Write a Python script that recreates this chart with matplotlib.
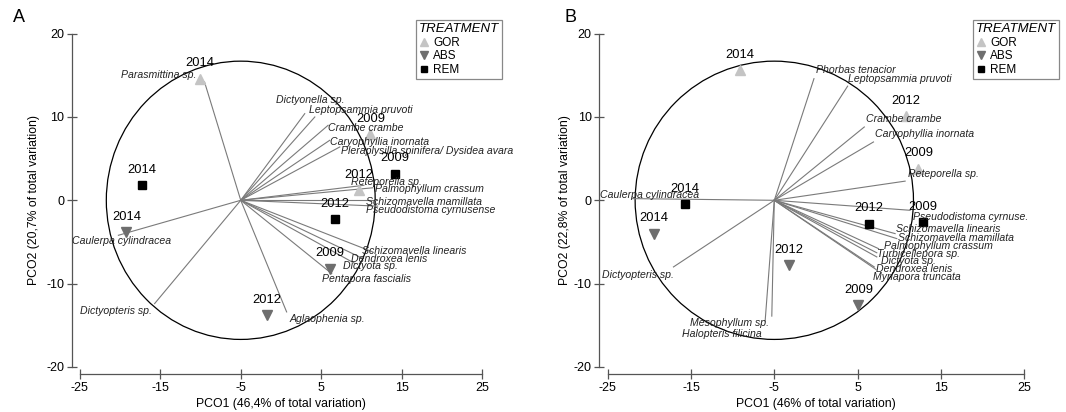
import numpy as np
import matplotlib.pyplot as plt
from matplotlib.lines import Line2D
from matplotlib.patches import Circle

plt.rcParams['font.family'] = ['Liberation Sans', 'DejaVu Sans']
plt.rcParams['axes.unicode_minus'] = False

# ==========================
# Data
# ==========================
years = ['2009', '2012', '2014']

# Panel A - sample scores, one value per year
a_gor_x = [11.1, 9.7, -10.1]
a_gor_y = [7.9, 1.2, 14.6]
a_abs_x = [6.1, -1.8, -19.2]
a_abs_y = [-8.2, -13.8, -3.8]
a_rem_x = [14.1, 6.7, -17.3]
a_rem_y = [3.2, -2.3, 1.8]

# Panel A - species vectors (end points)
a_species = ['Parasmittina sp.', 'Dictyonella sp.', 'Leptopsammia pruvoti',
             'Crambe crambe', 'Caryophyllia inornata',
             'Pleraplysilla spinifera/ Dysidea avara', 'Reteporella sp.',
             'Palmophyllum crassum', 'Schizomavella mamillata',
             'Pseudodistoma cyrnusense', 'Schizomavella linearis',
             'Dendroxea lenis', 'Dictyota sp.', 'Pentapora fascialis',
             'Aglaophenia sp.', 'Dictyopteris sp.', 'Caulerpa cylindracea']
a_vec_x = [-9.5, 2.95, 4.2, 5.85, 6.05, 7.3, 10.3, 11.4, 11.8, 12.0,
           11.4, 10.2, 9.2, 6.3, 0.7, -15.7, -20.2]
a_vec_y = [14.2, 10.4, 10.0, 9.0, 7.2, 6.4, 1.8, 1.5, 0.0, -0.7,
           -6.2, -7.0, -7.6, -8.8, -13.4, -12.4, -4.2]

# Panel B - sample scores, one value per year
b_gor_x = [12.3, 10.8, -9.1]
b_gor_y = [3.8, 10.1, 15.6]
b_abs_x = [5.1, -3.2, -19.4]
b_abs_y = [-12.6, -7.8, -4.0]
b_rem_x = [12.8, 6.4, -15.7]
b_rem_y = [-2.6, -2.8, -0.5]

# Panel B - species vectors (end points)
b_species = ['Phorbas tenacior', 'Leptopsammia pruvoti', 'Crambe crambe',
             'Caryophyllia inornata', 'Reteporella sp.',
             'Pseudodistoma cyrnuse.', 'Schizomavella linearis',
             'Schizomavella mamillata', 'Palmophyllum crassum',
             'Turbicellepora sp.', 'Dictyota sp.', 'Dendroxea lenis',
             'Myriapora truncata', 'Caulerpa cylindracea', 'Dictyopteris sp.',
             'Mesophyllum sp.', 'Halopteris filicina']
b_vec_x = [-0.24, 3.8, 5.8, 6.9, 10.7, 11.3, 9.5, 9.7, 7.5, 7.3, 7.3,
           7.0, 7.2, -22.0, -17.1, -5.3, -6.1]
b_vec_y = [14.6, 13.7, 8.8, 7.0, 2.3, -1.2, -4.0, -4.6, -5.8, -6.3, -6.8,
           -8.0, -8.3, 0.2, -8.0, -13.9, -14.5]

x_ticks = [-25, -15, -5, 5, 15, 25]
y_ticks = [-20, -10, 0, 10, 20]

# ==========================
# Layout (label placement)
# ==========================
a_lab = [(-10.5, 15.0, 'right'), (-0.6, 12.0, 'left'), (3.5, 10.8, 'left'),
         (5.85, 8.7, 'left'), (6.05, 7.0, 'left'), (7.5, 5.95, 'left'),
         (8.75, 2.2, 'left'), (11.65, 1.3, 'left'), (10.6, -0.15, 'left'),
         (10.6, -1.2, 'left'), (10.0, -6.05, 'left'), (8.75, -7.1, 'left'),
         (7.7, -7.9, 'left'), (5.15, -9.5, 'left'), (1.0, -14.2, 'left'),
         (-16.0, -13.25, 'right'), (-19.8, -4.85, 'center')]
b_lab = [(0.0, 15.6, 'left'), (3.9, 14.5, 'left'), (6.0, 9.75, 'left'),
         (7.1, 8.0, 'left'), (11.1, 3.2, 'left'), (11.6, -2.0, 'left'),
         (9.6, -3.5, 'left'), (9.8, -4.5, 'left'), (8.2, -5.5, 'left'),
         (7.3, -6.4, 'left'), (7.8, -7.3, 'left'), (7.2, -8.3, 'left'),
         (6.9, -9.2, 'left'), (-25.9, 0.6, 'left'), (-17.1, -9.0, 'right'),
         (-5.6, -14.7, 'right'), (-6.5, -16.1, 'right')]

gor_col = '#c4c4c4'
abs_col = '#6e6e6e'
rem_col = '#000000'
axis_col = '#555555'

W, H = 1066, 412
fig = plt.figure(figsize=(W / 100, H / 100), dpi=100)

XLIM = (-26, 28)
YLIM = (-20.85, 22)
origin = (-5, 0)
radius = 16.7


def draw_panel(ax, samples, species, vx, vy, labs, xlabel, ylabel, ylab_x):
    ax.set_xlim(*XLIM)
    ax.set_ylim(*YLIM)
    for s in ['top', 'right']:
        ax.spines[s].set_visible(False)
    ax.spines['left'].set_bounds(-20, 20)
    ax.spines['bottom'].set_bounds(-25, 25)
    for s in ['left', 'bottom']:
        ax.spines[s].set_color(axis_col)
        ax.spines[s].set_linewidth(0.9)
    ax.set_xticks(x_ticks)
    ax.set_yticks(y_ticks)
    ax.tick_params(direction='inout', length=7, width=0.9, color=axis_col,
                   labelsize=9, pad=2)

    ax.add_patch(Circle(origin, radius, fill=False, ec='black', lw=0.9))

    for name, x, y, (lx, ly, ha) in zip(species, vx, vy, labs):
        ax.plot([origin[0], x], [origin[1], y], color='#7a7a7a', lw=0.8)
        ax.text(lx, ly, name, style='italic', fontsize=7.6, ha=ha,
                va='center', color='#222222')

    for (xs, ys, marker, col, ms) in samples:
        ax.plot(xs, ys, ls='', marker=marker, color=col, markersize=ms)
        for x, y, yr in zip(xs, ys, years):
            ax.annotate(yr, (x, y), xytext=(0, 11), textcoords='offset points',
                        ha='center', va='center', fontsize=9.3)

    ax.set_xlabel(xlabel, fontsize=8.8)
    ax.xaxis.set_label_coords((0 - XLIM[0]) / (XLIM[1] - XLIM[0]), -0.067)
    ax.set_ylabel(ylabel, fontsize=8.8)
    ax.yaxis.set_label_coords(ylab_x, (0 - YLIM[0]) / (YLIM[1] - YLIM[0]))


def legend(ax, right_px):
    handles = [
        Line2D([], [], ls='', marker='^', color=gor_col, markersize=6, label='GOR'),
        Line2D([], [], ls='', marker='v', color=abs_col, markersize=6, label='ABS'),
        Line2D([], [], ls='', marker='s', color=rem_col, markersize=5, label='REM'),
    ]
    leg = ax.legend(handles=handles, title='TREATMENT', loc='upper right',
                    bbox_to_anchor=(right_px / W, 1 - 20 / H),
                    bbox_transform=fig.transFigure, fancybox=False,
                    edgecolor='#888888', framealpha=1, fontsize=8.5,
                    title_fontsize=9.5, handlelength=0.8, handletextpad=0.4,
                    borderpad=0.25, labelspacing=0.15, borderaxespad=0,
                    alignment='left')
    leg.get_title().set_style('italic')
    leg.get_frame().set_linewidth(0.9)


bottom = (H - 374) / H
height = 357 / H

axA = fig.add_axes([71.7 / W, bottom, 434.7 / W, height])
draw_panel(axA,
           [(a_gor_x, a_gor_y, '^', gor_col, 7),
            (a_abs_x, a_abs_y, 'v', abs_col, 7),
            (a_rem_x, a_rem_y, 's', rem_col, 6)],
           a_species, a_vec_x, a_vec_y, a_lab,
           'PCO1 (46,4% of total variation)',
           'PCO2 (20,7% of total variation)', -0.072)
legend(axA, 502)

axB = fig.add_axes([599.3 / W, bottom, 450 / W, height])
draw_panel(axB,
           [(b_gor_x, b_gor_y, '^', gor_col, 7),
            (b_abs_x, b_abs_y, 'v', abs_col, 7),
            (b_rem_x, b_rem_y, 's', rem_col, 6)],
           b_species, b_vec_x, b_vec_y, b_lab,
           'PCO1 (46% of total variation)',
           'PCO2 (22,8% of total variation)', -0.062)
legend(axB, 1059)

fig.text(13 / W, 1 - 18 / H, 'A', fontsize=13, va='center')
fig.text(565 / W, 1 - 18 / H, 'B', fontsize=13, va='center')

fig.savefig('out.png', dpi=100)
